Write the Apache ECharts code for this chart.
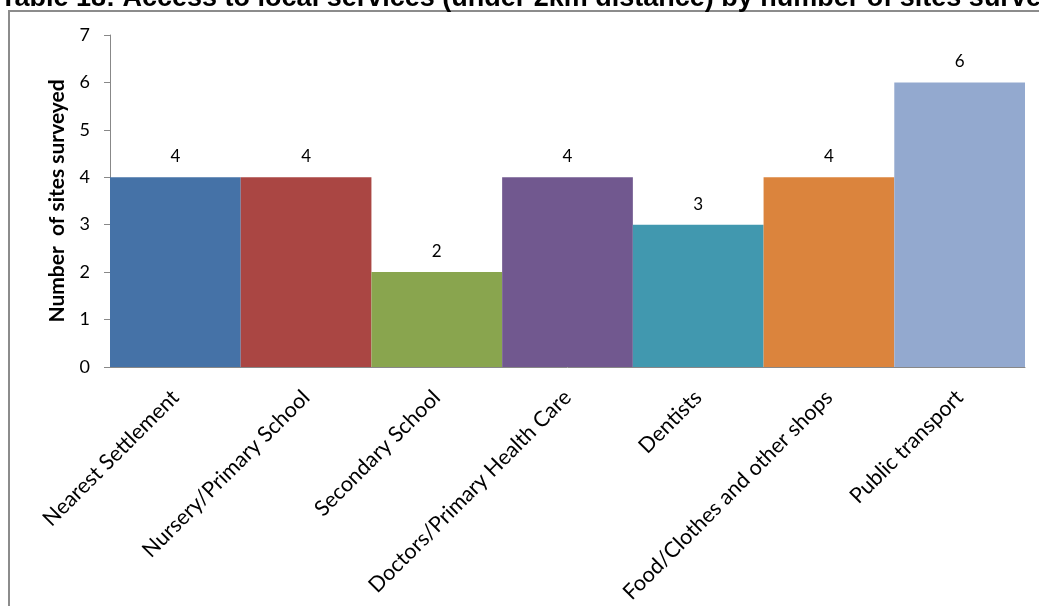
<!DOCTYPE html>
<html>
<head>
<meta charset="utf-8">
<script src="https://cdn.jsdelivr.net/npm/echarts@6/dist/echarts.min.js"></script>
<style>html,body{margin:0;padding:0;background:#fff;}#c{width:1039px;height:606px;}</style>
</head>
<body>
<div id="c"></div>
<script>
const titleText = 'Table 18: Access to local services (under 2km distance) by number of sites surveyed';
const categories = ['Nearest Settlement', 'Nursery/Primary School', 'Secondary School', 'Doctors/Primary Health Care', 'Dentists', 'Food/Clothes and other shops', 'Public transport'];
const sitesSurveyed = [4, 4, 2, 4, 3, 4, 6];
const yTicks = [0, 1, 2, 3, 4, 5, 6, 7];
const palette = ['#4572A7', '#AA4643', '#89A54E', '#71588F', '#4198AF', '#DB843D', '#93A9CF'];

const chart = echarts.init(document.getElementById('c'), null, {renderer: 'canvas'});
const font = 'Lato, "Open Sans", sans-serif';
chart.setOption({
  animation: false,
  backgroundColor: '#fff',
  title: {
    text: titleText,
    left: 0,
    top: -15,
    padding: 0,
    textStyle: {fontFamily: 'Liberation Sans, Arial, sans-serif', fontWeight: 'bold', fontSize: 27, color: '#000', lineHeight: 27}
  },
  graphic: [{
    type: 'rect', silent: true,
    shape: {x: 9, y: 11, width: 1200, height: 800},
    style: {fill: 'none', stroke: '#8c8c8c', lineWidth: 2}
  }],
  grid: {left: 110, right: 14, top: 35, bottom: 239, containLabel: false},
  xAxis: {
    type: 'category',
    data: categories,
    axisLine: {lineStyle: {color: '#888', width: 1}},
    axisTick: {show: false},
    axisLabel: {interval: 0, rotate: 45, fontSize: 21.5, color: '#000', fontFamily: font, margin: 27}
  },
  yAxis: {
    type: 'value',
    min: yTicks[0], max: yTicks[yTicks.length - 1], interval: 1,
    name: 'Number  of sites surveyed',
    nameLocation: 'middle',
    nameGap: 42,
    nameTextStyle: {fontSize: 21, fontWeight: 'bold', color: '#000', fontFamily: font},
    axisLine: {show: true, lineStyle: {color: '#888', width: 1}},
    axisTick: {show: true, length: 6, lineStyle: {color: '#888'}},
    splitLine: {show: false},
    axisLabel: {fontSize: 18, color: '#000', fontFamily: font, margin: 20}
  },
  series: [{
    type: 'bar',
    barCategoryGap: '0%',
    data: sitesSurveyed.map((v, i) => ({value: v, itemStyle: {color: palette[i]}})),
    label: {show: true, position: 'top', distance: 12, fontSize: 17, color: '#000', fontFamily: font}
  }]
});
</script>
</body>
</html>
